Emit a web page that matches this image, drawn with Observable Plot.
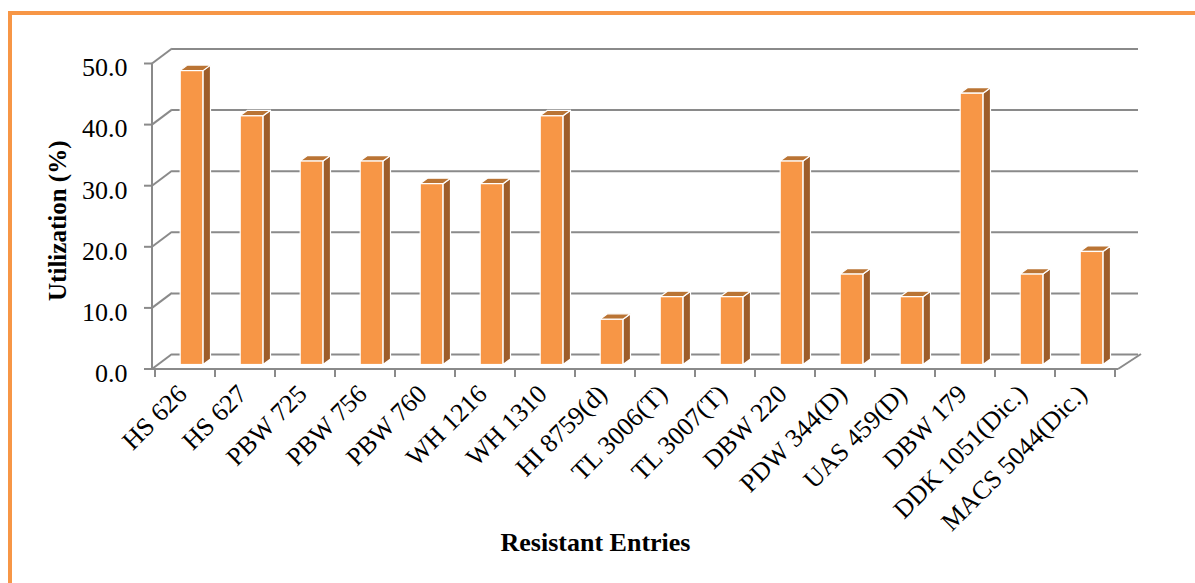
<!DOCTYPE html>
<html><head><meta charset="utf-8">
<script src="https://cdn.jsdelivr.net/npm/d3@7"></script>
<script src="https://cdn.jsdelivr.net/npm/@observablehq/plot@0.6"></script>
<style>
html,body{margin:0;padding:0;background:#fff;overflow:hidden;width:1195px;height:583px;}
#frame{position:absolute;left:8px;top:11px;width:1400px;height:800px;border:4px solid #F79646;box-sizing:border-box;}
#chart{position:absolute;left:0;top:0;}
</style></head><body><div id="frame"></div><div id="chart"></div>
<script>
const entries = ["HS 626","HS 627","PBW 725","PBW 756","PBW 760","WH 1216","WH 1310","HI 8759(d)","TL 3006(T)","TL 3007(T)","DBW 220","PDW 344(D)","UAS 459(D)","DBW 179","DDK 1051(Dic.)","MACS 5044(Dic.)"];
const utilization = [48.1,40.7,33.3,33.3,29.6,29.6,40.7,7.4,11.1,11.1,33.3,14.8,11.1,44.4,14.8,18.5];
const yTicks = [0,10,20,30,40,50];
const xTitle = "Resistant Entries";
const yTitle = "Utilization (%)";

const data = entries.map((name, i) => ({name, value: utilization[i]}));

const FRONT = "#F79646", SIDE = "#9E5D2A", TOP = "#BA7434", GRID = "#8a8a8a";
const FONT = "Liberation Serif, 'Times New Roman', serif";
const FS = 26;
const W = 1195, H = 583, ML = 152, MR = 77, MT = 63.5, MB = 214;
const WALL_DX = 20, WALL_DY = -15;       // depth of the chart box
const BAR_DX = 6.5, BAR_DY = -4.5;        // bar front-face depth position
const BAR_W = 23, DEP_X = 7.5, DEP_Y = -5.5; // bar width and bar depth
const BW = (W - ML - MR) / entries.length;
const INS = (BW - BAR_W) / 2;

// walls, floor, ticks
function walls(index, scales, values, dims) {
  const {x, y} = scales;
  const L = dims.marginLeft, R = dims.width - dims.marginRight;
  const g = d3.create("svg:g").attr("fill", "none").attr("stroke", GRID).attr("stroke-width", 2);
  const line = (x1, y1, x2, y2) => g.append("line").attr("x1", x1).attr("y1", y1).attr("x2", x2).attr("y2", y2);
  for (const t of yTicks) {
    line(L, y(t), L + WALL_DX, y(t) + WALL_DY);
    line(L - 8, y(t), L, y(t));
  }
  line(L, y(d3.max(yTicks)), L, y(0));
  line(L, y(0), R, y(0));
  line(R, y(0), R + WALL_DX + 3, y(0) + WALL_DY);
  const bw = x.bandwidth();
  for (const c of entries) line(x(c), y(0), x(c), y(0) + 8);
  line(x(entries[entries.length - 1]) + bw, y(0), x(entries[entries.length - 1]) + bw, y(0) + 8);
  return g.node();
}

// side and top faces of the bars
function barSides(index, scales) {
  const {x, y} = scales;
  const bw = x.bandwidth();
  const g = d3.create("svg:g").attr("stroke", "white").attr("stroke-width", 1.2).attr("stroke-linejoin", "round");
  for (const d of data) {
    const xl = x(d.name) + bw / 2 + BAR_DX - BAR_W / 2, xr = xl + BAR_W;
    const yt = y(d.value) + BAR_DY, yb = y(0) + BAR_DY;
    g.append("path").attr("fill", SIDE)
      .attr("d", `M${xr},${yt}L${xr + DEP_X},${yt + DEP_Y}L${xr + DEP_X},${yb + DEP_Y}L${xr},${yb}Z`);
    g.append("path").attr("fill", TOP)
      .attr("d", `M${xl},${yt}L${xl + DEP_X},${yt + DEP_Y}L${xr + DEP_X},${yt + DEP_Y}L${xr},${yt}Z`);
  }
  return g.node();
}

const chart = Plot.plot({
  width: W, height: H,
  marginLeft: ML, marginRight: MR, marginTop: MT, marginBottom: MB,
  style: {fontFamily: FONT, fontSize: FS + "px", color: "black", background: "transparent", overflow: "visible"},
  x: {domain: entries, padding: 0, axis: null},
  y: {domain: [0, 50], axis: null},
  marks: [
    Plot.ruleY(yTicks, {y: d => d, dx: WALL_DX, dy: WALL_DY, stroke: GRID, strokeWidth: 2}),
    walls,
    barSides,
    Plot.barY(data, {x: "name", y: "value", dx: BAR_DX, dy: BAR_DY, insetLeft: INS, insetRight: INS,
      fill: FRONT, stroke: "white", strokeWidth: 1.2}),
    Plot.text(yTicks, {y: d => d, frameAnchor: "left", text: d => d.toFixed(1), textAnchor: "end",
      lineAnchor: "middle", dx: -25, dy: 4, fontSize: FS, fill: "black"}),
    Plot.text(data, {x: "name", frameAnchor: "bottom", text: "name", rotate: -45, textAnchor: "end",
      lineAnchor: "bottom", dx: 3, dy: 26, fontSize: FS, fill: "black"}),
    Plot.text([yTitle], {frameAnchor: "left", text: d => d, rotate: -90, textAnchor: "middle",
      lineAnchor: "middle", dx: -95, dy: 4, fontSize: FS - 1, fontWeight: "bold", fill: "black"}),
    Plot.text([xTitle], {frameAnchor: "bottom", text: d => d, textAnchor: "middle",
      lineAnchor: "bottom", dx: -40, dy: 181, fontSize: FS, fontWeight: "bold", fill: "black"})
  ]
});
document.getElementById("chart").appendChild(chart);
</script>
</body></html>
